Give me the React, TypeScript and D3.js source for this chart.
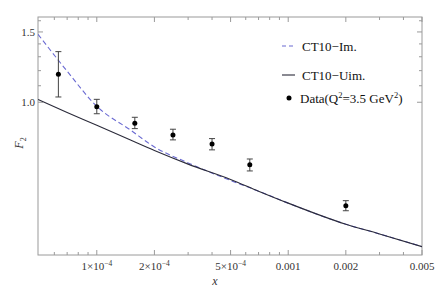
import * as d3 from 'd3';

// measured points
const dataX = [6.3e-5, 1.0e-4, 1.58e-4, 2.5e-4, 4.0e-4, 6.3e-4, 2.0e-3];
const dataF2 = [1.175, 0.975, 0.886, 0.828, 0.786, 0.697, 0.551];
const dataLo = [1.031, 0.936, 0.859, 0.805, 0.76, 0.673, 0.535];
const dataHi = [1.339, 1.017, 0.917, 0.856, 0.811, 0.721, 0.567];

// theory curves
const curveX = [4.93e-5, 7e-5, 1e-4, 1.5e-4, 2e-4, 3e-4, 5e-4, 7e-4, 1e-3, 2e-3, 3e-3, 5e-3];
const ct10Uim = [1.016, 0.943, 0.876, 0.804, 0.757, 0.7, 0.641, 0.599, 0.559, 0.495, 0.468, 0.435];
const ct10Im = [1.48, 1.196, 0.977, 0.852, 0.773, 0.705, 0.637, 0.599, 0.559, 0.495, 0.468, 0.435];

const xMajor = [1e-4, 2e-4, 5e-4, 1e-3, 2e-3, 5e-3];
const xMajorLabels = ['1×10', '2×10', '5×10', '0.001', '0.002', '0.005'];
const xMinor = [6e-5, 7e-5, 8e-5, 9e-5, 3e-4, 4e-4, 6e-4, 7e-4, 8e-4, 9e-4, 3e-3, 4e-3];
const yMajor = [1.0, 1.5];
const yMinor = [1.1, 1.2, 1.3, 1.4, 1.6];

const W = 436;
const H = 292;
const left = 38, right = 422, top = 17, bottom = 255;
const font = '"Liberation Serif", "DejaVu Serif", serif';
const frame = '#9a9a9a';

export default function App() {
  const x = d3.scaleLog().domain([4.93e-5, 5e-3]).range([left, right]);
  const y = d3.scaleLog().domain([0.4145, 1.635]).range([bottom, top]);

  const line = d3
    .line<[number, number]>()
    .x((d) => x(d[0]))
    .y((d) => y(d[1]))
    .curve(d3.curveMonotoneX);

  const uimPath = line(curveX.map((v, i) => [v, ct10Uim[i]]));
  const imPath = line(curveX.map((v, i) => [v, ct10Im[i]]));

  return (
    <svg width={W} height={H} style={{ position: 'absolute', left: 0, top: 0 }} fontFamily={font}>
      <rect x={0} y={0} width={W} height={H} fill="#fff" />
      <defs>
        <clipPath id="plot">
          <rect x={left} y={top} width={right - left} height={bottom - top} />
        </clipPath>
      </defs>

      {/* frame */}
      <rect x={left} y={top} width={right - left} height={bottom - top} fill="none" stroke={frame} strokeWidth={1} />

      {/* x ticks bottom + top */}
      {xMajor.map((v) => (
        <g key={'xm' + v} stroke={frame}>
          <line x1={x(v)} x2={x(v)} y1={bottom} y2={bottom - 5} />
          <line x1={x(v)} x2={x(v)} y1={top} y2={top + 5} />
        </g>
      ))}
      {xMinor.map((v) => (
        <g key={'xn' + v} stroke={frame}>
          <line x1={x(v)} x2={x(v)} y1={bottom} y2={bottom - 3} />
          <line x1={x(v)} x2={x(v)} y1={top} y2={top + 3} />
        </g>
      ))}
      {xMajor.map((v, i) => (
        <text key={'xl' + v} x={x(v)} y={bottom + 15} fontSize={11} fill="#333" textAnchor="middle">
          {xMajorLabels[i]}
          {i < 3 && (
            <tspan dy={-4.5} fontSize={7.5}>
              −4
            </tspan>
          )}
        </text>
      ))}

      {/* y ticks left + right */}
      {yMajor.map((v) => (
        <g key={'ym' + v} stroke={frame}>
          <line x1={left} x2={left + 5} y1={y(v)} y2={y(v)} />
          <line x1={right} x2={right - 5} y1={y(v)} y2={y(v)} />
        </g>
      ))}
      {yMinor.map((v) => (
        <g key={'yn' + v} stroke={frame}>
          <line x1={left} x2={left + 3} y1={y(v)} y2={y(v)} />
          <line x1={right} x2={right - 3} y1={y(v)} y2={y(v)} />
        </g>
      ))}
      {yMajor.map((v) => (
        <text key={'yl' + v} x={left - 3} y={y(v) + 4} fontSize={11} fill="#333" textAnchor="end">
          {d3.format('.1f')(v)}
        </text>
      ))}

      {/* curves */}
      <g clipPath="url(#plot)" fill="none">
        <path d={imPath ?? ''} stroke="#6a6ad2" strokeWidth={1.1} strokeDasharray="5,3" />
        <path d={uimPath ?? ''} stroke="#2b2b3a" strokeWidth={1.1} />
      </g>

      {/* data with error bars */}
      {dataX.map((v, i) => (
        <g key={'d' + v}>
          <g stroke="#444" strokeWidth={1}>
            <line x1={x(v)} x2={x(v)} y1={y(dataLo[i])} y2={y(dataHi[i])} />
            <line x1={x(v) - 3} x2={x(v) + 3} y1={y(dataLo[i])} y2={y(dataLo[i])} />
            <line x1={x(v) - 3} x2={x(v) + 3} y1={y(dataHi[i])} y2={y(dataHi[i])} />
          </g>
          <circle cx={x(v)} cy={y(dataF2[i])} r={2.5} fill="#000" />
        </g>
      ))}

      {/* legend */}
      <line x1={282} x2={295} y1={46} y2={46} stroke="#6a6ad2" strokeWidth={1.1} strokeDasharray="4,3" />
      <text x={302} y={50.5} fontSize={13} fill="#111">CT10−Im.</text>
      <line x1={282} x2={295} y1={75} y2={75} stroke="#2b2b3a" strokeWidth={1.1} />
      <text x={302} y={79.5} fontSize={13} fill="#111">CT10−Uim.</text>
      <circle cx={289} cy={98} r={2.5} fill="#000" />
      <text x={300} y={102.5} fontSize={13} fill="#111">
        Data(Q<tspan dy={-5} fontSize={8.5}>2</tspan>
        <tspan dy={5}>=3.5 GeV</tspan>
        <tspan dy={-5} fontSize={8.5}>2</tspan>
        <tspan dy={5}>)</tspan>
      </text>

      {/* axis labels */}
      <text x={215} y={285} fontSize={12} fontStyle="italic" fill="#333" textAnchor="middle">
        x
      </text>
      <text transform="translate(23,143) rotate(-90)" fontSize={12} fontStyle="italic" fill="#333" textAnchor="middle">
        F<tspan dy={3} fontSize={8} fontStyle="normal">2</tspan>
      </text>
    </svg>
  );
}
